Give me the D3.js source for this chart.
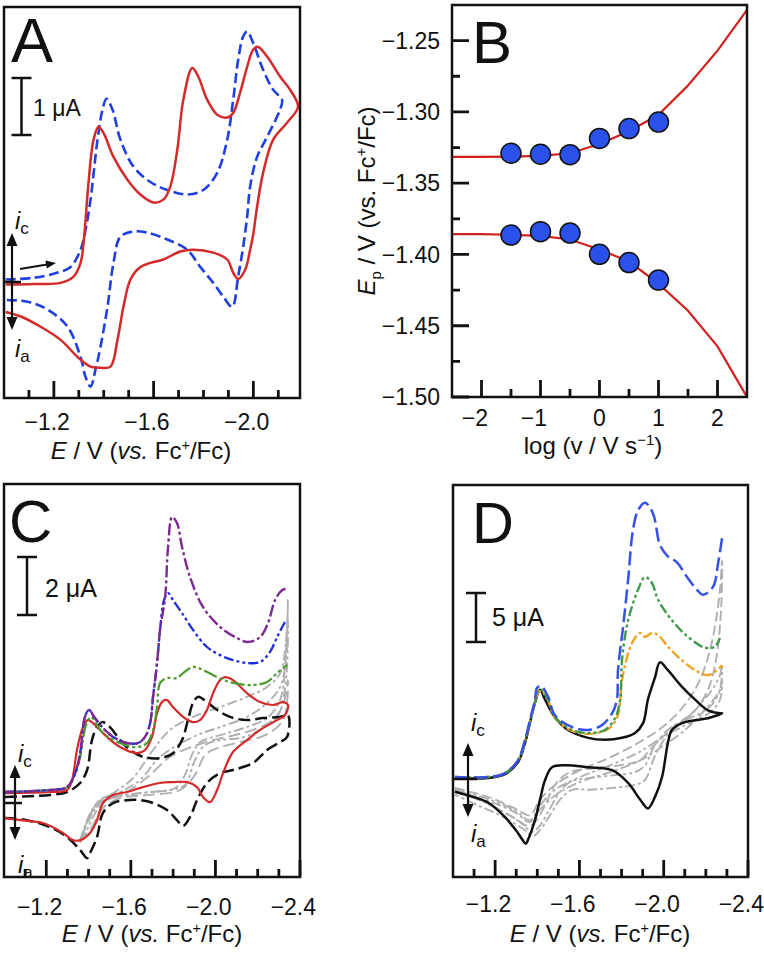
<!DOCTYPE html>
<html>
<head>
<meta charset="utf-8">
<script src="https://cdn.jsdelivr.net/npm/d3@7"></script>
<style>
  body { margin: 0; background: #fff; }
  svg { display: block; font-family: "Liberation Sans", Arial, sans-serif; }
</style>
</head>
<body>
<svg id="fig" width="764" height="953"></svg>
<script>
// ---------- panel A : CVs, E (V) vs i (uA) ----------
const aRed = [[-1.007,-0.05],[-1.119,-0.04],[-1.227,-0.02],[-1.279,0.09],[-1.307,0.33],[-1.319,0.68],[-1.339,1.74],[-1.359,2.49],[-1.379,2.72],[-1.399,2.61],[-1.439,2.19],[-1.495,1.79],[-1.547,1.53],[-1.599,1.39],[-1.639,1.44],[-1.667,1.67],[-1.695,2.32],[-1.719,3.19],[-1.755,3.75],[-1.779,3.60],[-1.815,3.19],[-1.855,2.93],[-1.895,2.88],[-1.919,2.96],[-1.947,3.32],[-1.975,3.77],[-1.999,4.07],[-2.019,4.12],[-2.055,3.95],[-2.107,3.60],[-2.147,3.37],[-2.179,3.07],
  [-2.135,2.79],[-2.079,2.49],[-2.039,1.91],[-2.015,1.32],[-1.999,0.82],[-1.987,0.56],[-1.967,0.21],[-1.939,0.05],[-1.919,0.16],[-1.895,0.39],[-1.839,0.51],[-1.759,0.56],[-1.707,0.53],[-1.639,0.39],[-1.587,0.33],[-1.547,0.26],[-1.507,0.04],[-1.479,-0.44],[-1.455,-1.02],[-1.427,-1.49],[-1.387,-1.51],[-1.347,-1.49],[-1.295,-1.32],[-1.227,-1.02],[-1.147,-0.79],[-1.067,-0.61],[-1.007,-0.53]];
const aBlue = [[-1.007,0.04],[-1.119,0.07],[-1.215,0.16],[-1.267,0.26],[-1.307,0.56],[-1.327,0.91],[-1.347,1.44],[-1.375,2.49],[-1.395,3.02],[-1.411,3.21],[-1.435,3.02],[-1.467,2.49],[-1.519,2.02],[-1.587,1.75],[-1.655,1.61],[-1.735,1.53],[-1.799,1.61],[-1.855,1.91],[-1.895,2.49],[-1.919,3.19],[-1.939,3.89],[-1.959,4.30],[-1.975,4.39],[-1.999,4.19],[-2.039,3.72],[-2.079,3.37],[-2.115,3.19],
  [-2.107,3.02],[-2.055,2.54],[-2.015,2.19],[-1.987,1.67],[-1.975,1.14],[-1.959,0.61],[-1.939,0.09],[-1.915,-0.44],[-1.879,-0.26],[-1.839,-0.02],[-1.787,0.26],[-1.735,0.56],[-1.655,0.74],[-1.575,0.86],[-1.519,0.88],[-1.467,0.79],[-1.439,0.33],[-1.415,-0.44],[-1.387,-1.14],[-1.367,-1.54],[-1.347,-1.84],[-1.327,-1.67],[-1.307,-1.32],[-1.255,-0.79],[-1.175,-0.49],[-1.095,-0.35],[-1.007,-0.32]];

// ---------- panel B : peak potential vs log scan rate ----------
const bLogV = [-1.5,-1,-0.5,0,0.5,1];
const bEpUpper = [-1.329,-1.3297,-1.330,-1.3186,-1.3117,-1.3071];
const bEpLower = [-1.3864,-1.384,-1.385,-1.3999,-1.4057,-1.418];
const bFitLogV = [-2.5,-2,-1.5,-1,-0.5,0,0.5,1,1.5,2,2.5];
const bFitUpper = [-1.3316,-1.3316,-1.3314,-1.3308,-1.3290,-1.3225,-1.3136,-1.3020,-1.2815,-1.2570,-1.2285];
const bFitLower = [-1.3857,-1.3858,-1.3862,-1.3870,-1.3895,-1.3965,-1.4050,-1.4205,-1.4395,-1.4645,-1.5000];

// ---------- panel C ----------
const cPurple = [[-1.005,0.38],[-1.218,0.45],[-1.298,0.55],[-1.336,1.03],[-1.360,1.72],[-1.383,2.97],[-1.402,3.21],[-1.430,2.93],[-1.468,2.59],[-1.516,2.28],[-1.582,2.07],[-1.634,2.07],[-1.667,2.28],[-1.691,2.76],[-1.705,3.66],[-1.724,4.83],[-1.738,5.97],[-1.762,7.10],[-1.776,8.83],[-1.795,9.86],[-1.818,9.66],[-1.842,8.83],[-1.880,7.79],[-1.941,6.76],[-2.022,6.07],[-2.102,5.69],[-2.154,5.55],[-2.211,5.72],[-2.249,6.21],[-2.282,7.00],[-2.315,7.34],[-2.334,7.38]];
const cBlue = [[-1.005,0.38],[-1.218,0.45],[-1.298,0.55],[-1.336,1.03],[-1.360,1.72],[-1.383,2.97],[-1.402,3.21],[-1.430,2.93],[-1.468,2.59],[-1.516,2.28],[-1.582,2.07],[-1.634,2.07],[-1.667,2.28],[-1.691,2.76],[-1.705,3.66],[-1.724,4.83],[-1.738,5.97],[-1.757,7.00],[-1.776,7.24],[-1.799,7.00],[-1.842,6.55],[-1.894,5.97],[-1.960,5.38],[-2.022,5.10],[-2.083,4.93],[-2.149,4.83],[-2.211,4.86],[-2.258,5.21],[-2.296,5.79],[-2.329,6.24]];
const cGreen = [[-1.005,0.38],[-1.218,0.45],[-1.298,0.55],[-1.336,0.97],[-1.360,1.59],[-1.388,2.69],[-1.412,2.97],[-1.440,2.69],[-1.468,2.41],[-1.549,2.07],[-1.629,1.93],[-1.676,2.07],[-1.705,2.52],[-1.724,3.31],[-1.738,4.14],[-1.771,4.31],[-1.818,4.31],[-1.847,4.48],[-1.894,4.69],[-1.941,4.59],[-2.008,4.34],[-2.083,4.14],[-2.178,4.07],[-2.244,4.17],[-2.291,4.48],[-2.339,4.76]];
const cRed = [[-1.005,0.34],[-1.218,0.38],[-1.298,0.45],[-1.322,0.79],[-1.345,1.83],[-1.374,2.62],[-1.397,2.86],[-1.440,2.62],[-1.487,2.28],[-1.549,1.93],[-1.629,1.72],[-1.667,1.83],[-1.700,2.28],[-1.724,3.10],[-1.747,3.48],[-1.771,3.55],[-1.799,3.31],[-1.847,2.97],[-1.894,2.79],[-1.927,2.86],[-1.960,3.21],[-1.989,3.79],[-2.022,4.24],[-2.045,4.34],[-2.083,4.24],[-2.149,3.79],[-2.211,3.48],[-2.272,3.38],[-2.320,3.48],[-2.343,3.38],
  [-2.329,3.03],[-2.291,2.86],[-2.211,2.52],[-2.149,2.17],[-2.083,1.76],[-2.036,1.03],[-2.008,0.45],[-1.974,0.03],[-1.941,0.21],[-1.913,0.55],[-1.866,0.72],[-1.799,0.72],[-1.738,0.69],[-1.643,0.52],[-1.582,0.38],[-1.516,0.28],[-1.468,0.00],[-1.440,-0.59],[-1.407,-1.03],[-1.360,-1.28],[-1.326,-1.28],[-1.279,-1.03],[-1.184,-0.69],[-1.076,-0.59],[-1.005,-0.52]];
const cBlack = [[-1.005,0.21],[-1.218,0.28],[-1.298,0.38],[-1.360,0.69],[-1.393,1.14],[-1.416,2.17],[-1.440,2.62],[-1.464,2.79],[-1.501,2.62],[-1.549,2.17],[-1.596,1.83],[-1.658,1.59],[-1.738,1.55],[-1.799,1.72],[-1.842,2.17],[-1.870,2.86],[-1.894,3.45],[-1.918,3.66],[-1.960,3.48],[-2.008,3.21],[-2.069,2.97],[-2.149,2.86],[-2.225,2.93],[-2.306,2.97],[-2.343,3.03],
  [-2.339,2.28],[-2.306,2.10],[-2.244,1.83],[-2.178,1.38],[-2.083,1.14],[-2.022,1.03],[-1.960,0.69],[-1.913,0.10],[-1.880,-0.48],[-1.847,-0.79],[-1.818,-0.59],[-1.771,-0.24],[-1.705,0.00],[-1.643,0.10],[-1.582,0.10],[-1.516,0.00],[-1.468,-0.34],[-1.440,-1.17],[-1.407,-1.72],[-1.393,-1.90],[-1.360,-1.62],[-1.298,-1.17],[-1.218,-0.83],[-1.109,-0.59],[-1.005,-0.52]];
const cGray1 = [[-1.360,-1.28],[-1.397,-0.52],[-1.440,0.00],[-1.525,0.38],[-1.610,0.86],[-1.705,1.83],[-1.785,2.52],[-1.894,2.97],[-2.022,3.31],[-2.149,3.66],[-2.244,4.00],[-2.306,4.48],[-2.334,5.62],[-2.343,7.00],
  [-2.334,5.28],[-2.306,3.55],[-2.244,2.93],[-2.149,2.62],[-2.055,2.41],[-1.974,2.24],[-1.927,2.10],[-1.889,1.66],[-1.856,0.97],[-1.809,0.52],[-1.691,0.38],[-1.549,0.24],[-1.454,0.00],[-1.397,-0.66],[-1.360,-1.28]];
const cGray2 = [[-1.360,-1.38],[-1.407,-0.41],[-1.454,0.10],[-1.549,0.38],[-1.643,0.79],[-1.738,1.59],[-1.894,2.28],[-2.022,2.62],[-2.149,2.97],[-2.244,3.45],[-2.306,4.00],[-2.334,4.93],[-2.343,6.31],
  [-2.334,4.24],[-2.296,3.03],[-2.211,2.52],[-2.116,2.24],[-2.022,2.17],[-1.951,2.00],[-1.903,1.48],[-1.856,0.62],[-1.785,0.45],[-1.643,0.34],[-1.525,0.21],[-1.454,-0.10],[-1.397,-0.86],[-1.360,-1.38]];
const cGray3 = [[-1.369,-1.21],[-1.416,-0.31],[-1.478,0.10],[-1.596,0.45],[-1.691,0.97],[-1.785,1.59],[-1.941,2.07],[-2.055,2.28],[-2.178,2.52],[-2.272,2.86],[-2.320,3.38],[-2.343,4.24],
  [-2.320,2.86],[-2.235,2.34],[-2.116,2.10],[-2.012,1.90],[-1.951,1.66],[-1.903,0.97],[-1.833,0.45],[-1.691,0.28],[-1.549,0.17],[-1.468,-0.17],[-1.407,-0.93],[-1.369,-1.21]];

// ---------- panel D ----------
const dBlue = [[-1.009,0.2],[-1.166,0.2],[-1.247,0.6],[-1.308,1.9],[-1.342,4.0],[-1.365,6.0],[-1.389,8.1],[-1.399,9.3],[-1.418,9.5],[-1.451,8.4],[-1.484,6.5],[-1.565,5.3],[-1.641,5.0],[-1.707,5.5],[-1.755,6.7],[-1.778,8.1],[-1.783,11.1],[-1.807,15.5],[-1.831,20.3],[-1.854,25.4],[-1.878,27.4],[-1.911,28.2],[-1.949,27.1],[-1.982,23.9],[-2.016,22.8],[-2.063,22.1],[-2.111,20.6],[-2.158,19.3],[-2.187,18.8],[-2.234,19.6],[-2.258,22.0],[-2.277,24.6]];
const dGreen = [[-1.009,0.2],[-1.166,0.2],[-1.247,0.6],[-1.308,1.9],[-1.342,3.9],[-1.365,5.8],[-1.389,7.8],[-1.403,8.9],[-1.418,9.1],[-1.451,8.1],[-1.484,6.3],[-1.565,5.0],[-1.641,4.7],[-1.721,5.0],[-1.769,6.2],[-1.793,8.1],[-1.802,12.1],[-1.831,16.2],[-1.878,19.3],[-1.911,20.6],[-1.944,20.0],[-1.973,18.3],[-2.039,16.2],[-2.115,14.5],[-2.196,13.4],[-2.243,13.5],[-2.267,14.4]];
const dOrange = [[-1.009,0.2],[-1.166,0.2],[-1.247,0.6],[-1.308,1.9],[-1.342,3.9],[-1.365,5.8],[-1.389,7.8],[-1.403,8.8],[-1.418,9.0],[-1.451,8.0],[-1.484,6.2],[-1.565,4.9],[-1.641,4.6],[-1.736,5.1],[-1.778,6.2],[-1.793,7.8],[-1.802,10.1],[-1.850,13.9],[-1.888,14.9],[-1.911,14.5],[-1.944,14.9],[-1.973,14.7],[-2.020,13.5],[-2.087,12.1],[-2.149,11.1],[-2.210,10.6],[-2.253,11.1],[-2.277,11.6]];
const dBlack = [[-1.009,0.1],[-1.166,0.1],[-1.247,0.5],[-1.308,1.7],[-1.342,3.7],[-1.365,5.7],[-1.389,7.8],[-1.413,9.1],[-1.437,8.1],[-1.484,6.3],[-1.546,5.0],[-1.641,4.2],[-1.721,4.0],[-1.802,4.2],[-1.864,4.7],[-1.902,5.7],[-1.925,8.1],[-1.959,10.4],[-1.982,11.9],[-2.020,11.1],[-2.087,9.4],[-2.149,8.1],[-2.210,7.0],[-2.267,6.7],[-2.277,6.7],
  [-2.210,6.2],[-2.149,6.0],[-2.087,5.7],[-2.039,5.0],[-2.020,3.7],[-1.992,0.2],[-1.959,-1.8],[-1.925,-3.0],[-1.888,-2.1],[-1.831,-0.4],[-1.755,0.9],[-1.641,1.2],[-1.532,1.4],[-1.470,1.2],[-1.437,-0.1],[-1.413,-2.1],[-1.389,-4.2],[-1.356,-6.2],[-1.346,-6.6],[-1.308,-5.5],[-1.247,-3.9],[-1.166,-2.4],[-1.090,-1.8],[-1.009,-1.3]];
const dGray1 = [[-1.009,-0.9],[-1.176,-1.9],[-1.294,-3.0],[-1.365,-3.7],[-1.413,-2.1],[-1.484,-0.6],[-1.603,0.9],[-1.745,2.2],[-1.888,3.8],[-2.006,5.5],[-2.101,7.6],[-2.172,10.1],[-2.220,13.2],[-2.248,16.2],[-2.267,19.3],[-2.277,22.3],
  [-2.272,17.2],[-2.248,12.1],[-2.210,9.1],[-2.149,7.0],[-2.077,5.8],[-2.006,4.5],[-1.935,3.0],[-1.888,1.9],[-1.793,1.4],[-1.674,1.1],[-1.555,0.7],[-1.484,-0.6],[-1.437,-2.7],[-1.389,-4.4],[-1.356,-4.8],[-1.294,-4.0],[-1.199,-2.9],[-1.104,-1.8],[-1.009,-1.1]];
const dGray2 = [[-1.009,-1.1],[-1.176,-2.1],[-1.294,-3.2],[-1.365,-4.2],[-1.413,-2.7],[-1.484,-1.1],[-1.603,0.2],[-1.745,1.4],[-1.888,2.8],[-2.006,4.5],[-2.101,6.0],[-2.172,7.6],[-2.229,9.1],[-2.267,10.6],[-2.277,11.6],
  [-2.267,9.1],[-2.229,7.6],[-2.172,6.7],[-2.101,6.0],[-2.030,5.2],[-1.959,3.5],[-1.911,1.4],[-1.864,0.7],[-1.769,0.4],[-1.650,0.1],[-1.555,-0.3],[-1.498,-1.6],[-1.451,-3.4],[-1.403,-5.0],[-1.375,-5.4],[-1.318,-4.4],[-1.223,-3.2],[-1.119,-2.1],[-1.009,-1.3]];
const dGray3 = [[-1.009,-1.3],[-1.176,-2.3],[-1.294,-3.4],[-1.365,-4.4],[-1.418,-3.0],[-1.489,-1.6],[-1.603,-0.3],[-1.745,0.7],[-1.888,1.9],[-2.006,3.5],[-2.101,5.0],[-2.172,6.5],[-2.229,7.9],[-2.267,9.1],[-2.277,10.1],
  [-2.267,8.1],[-2.220,6.8],[-2.149,6.0],[-2.077,5.2],[-2.020,4.5],[-1.959,2.4],[-1.911,-0.1],[-1.864,-0.6],[-1.755,-0.9],[-1.650,-1.1],[-1.565,-1.1],[-1.508,-2.1],[-1.460,-3.7],[-1.413,-5.2],[-1.380,-5.8],[-1.327,-5.0],[-1.223,-3.7],[-1.119,-2.7],[-1.009,-1.6]];

// tick values
const eMajorA = [-1.2, -1.6, -2.0];
const eMinorA = [-1.1, -1.3, -1.4, -1.5, -1.7, -1.8, -1.9, -2.1];
const eMajorCD = [-1.2, -1.6, -2.0, -2.4];
const eMinorCD = [-1.1, -1.3, -1.4, -1.5, -1.7, -1.8, -1.9, -2.1, -2.2, -2.3];
const bxMajor = [-2, -1, 0, 1, 2];
const bxMinor = [-1.5, -0.5, 0.5, 1.5];
const byMajor = [-1.25, -1.30, -1.35, -1.40, -1.45, -1.50];
const byMinor = [-1.275, -1.325, -1.375, -1.425, -1.475];

const svg = d3.select("#fig");
const defs = svg.append("defs");
const INK = "#111";

function clip(id, x0, y0, x1, y1) {
  defs.append("clipPath").attr("id", id)
    .append("rect").attr("x", x0).attr("y", y0).attr("width", x1 - x0).attr("height", y1 - y0);
}

function frame(x0, y0, x1, y1) {
  svg.append("rect")
    .attr("x", x0).attr("y", y0).attr("width", x1 - x0).attr("height", y1 - y0)
    .attr("fill", "none").attr("stroke", INK).attr("stroke-width", 2.5);
}

// inward ticks on the bottom edge (one path), labels by baseline
function bottomAxis(x, y0, major, minor, fmt, fs, base) {
  const d = minor.map(v => `M${x(v)},${y0}V${y0 - 8}`).join("") +
            major.map(v => `M${x(v)},${y0}V${y0 - 17}`).join("");
  svg.append("path").attr("d", d).attr("fill", "none")
    .attr("stroke", INK).attr("stroke-width", 2.8);
  svg.append("g").selectAll("text").data(major).enter().append("text")
    .attr("x", v => x(v)).attr("y", base)
    .attr("dx", v => v < 0 ? "-0.29em" : 0)
    .attr("text-anchor", "middle").attr("font-size", fs).attr("fill", INK)
    .text(fmt);
}

function leftAxis(y, x0, major, minor, fmt, fs, right) {
  const d = minor.map(v => `M${x0},${y(v)}H${x0 + 8}`).join("") +
            major.map(v => `M${x0},${y(v)}H${x0 + 17}`).join("");
  svg.append("path").attr("d", d).attr("fill", "none")
    .attr("stroke", INK).attr("stroke-width", 2.8);
  svg.append("g").selectAll("text").data(major).enter().append("text")
    .attr("x", right).attr("y", v => y(v)).attr("dy", "0.36em")
    .attr("text-anchor", "end").attr("font-size", fs).attr("fill", INK)
    .text(fmt);
}

function eTitle(cx, by, fs) {
  const t = svg.append("text").attr("x", cx).attr("y", by)
    .attr("text-anchor", "middle").attr("font-size", fs).attr("fill", INK);
  t.append("tspan").attr("font-style", "italic").text("E");
  t.append("tspan").text(" / V (");
  t.append("tspan").attr("font-style", "italic").text("vs.");
  t.append("tspan").text(" Fc");
  t.append("tspan").attr("font-size", fs * 0.6).attr("dy", -fs * 0.38).text("+");
  t.append("tspan").attr("dy", fs * 0.38).text("/Fc)");
}

function letter(txt, x, y, fs) {
  svg.append("text").attr("x", x).attr("y", y).attr("font-size", fs).attr("fill", INK).text(txt);
}

function scaleBar(x, top, len, label, fs, lx, ly) {
  const g = svg.append("g").attr("stroke", INK).attr("stroke-width", 2.5);
  g.append("line").attr("x1", x).attr("x2", x).attr("y1", top).attr("y2", top + len);
  g.append("line").attr("x1", x - 10).attr("x2", x + 10).attr("y1", top).attr("y2", top);
  g.append("line").attr("x1", x - 10).attr("x2", x + 10).attr("y1", top + len).attr("y2", top + len);
  svg.append("text").attr("x", lx).attr("y", ly).attr("font-size", fs).attr("fill", INK).text(label);
}

function currentArrows(x, top, bot, barX0, barX1, barY, icY, iaY) {
  const g = svg.append("g");
  g.append("line").attr("x1", x).attr("x2", x).attr("y1", top + 10).attr("y2", bot - 10)
    .attr("stroke", INK).attr("stroke-width", 2.2);
  g.append("path").attr("d", `M${x},${top} L${x - 5.5},${top + 13} L${x + 5.5},${top + 13} Z`).attr("fill", INK);
  g.append("path").attr("d", `M${x},${bot} L${x - 5.5},${bot - 13} L${x + 5.5},${bot - 13} Z`).attr("fill", INK);
  g.append("line").attr("x1", barX0).attr("x2", barX1).attr("y1", barY).attr("y2", barY)
    .attr("stroke", INK).attr("stroke-width", 2.5);
  [[icY, "c"], [iaY, "a"]].forEach(([yy, s]) => {
    const t = svg.append("text").attr("x", x + 3).attr("y", yy).attr("font-size", 24).attr("fill", INK);
    t.append("tspan").attr("font-style", "italic").text("i");
    t.append("tspan").attr("font-size", 17).attr("dy", 5).text(s);
  });
}

function curves(x, y, clipId, list) {
  const line = d3.line().x(d => x(d[0])).y(d => y(d[1])).curve(d3.curveCatmullRom.alpha(0.5));
  const g = svg.append("g").attr("clip-path", `url(#${clipId})`);
  list.forEach(s => {
    g.append("path").attr("d", line(s.data))
      .attr("fill", "none").attr("stroke", s.color).attr("stroke-width", s.width || 2.3)
      .attr("stroke-dasharray", s.dash || null)
      .attr("stroke-linejoin", "round").attr("stroke-linecap", "butt");
  });
}

const f1 = d3.format(".1f");

// ================= Panel A =================
{
  const x = d3.scaleLinear().domain([-1.0, -2.187]).range([4, 300]);
  const y = d3.scaleLinear().domain([-2.04, 4.82]).range([398, 7]);
  clip("clipA", 4, 7, 300, 398);
  curves(x, y, "clipA", [
    { data: aBlue, color: "#1f3fe0", dash: "10,4.5", width: 2.6 },
    { data: aRed, color: "#d42a2a", width: 2.5 }
  ]);
  frame(4, 7, 300, 398);
  bottomAxis(x, 398, eMajorA, eMinorA, f1, 23, 430);
  letter("A", 11, 62, 63);
  scaleBar(21.5, 78, 57, "1 μA", 23, 33, 116);
  currentArrows(12, 233, 330, 4, 21, 282, 229, 357);
  // scan direction arrow
  svg.append("line").attr("x1", 20).attr("y1", 269).attr("x2", 47).attr("y2", 264.5)
    .attr("stroke", INK).attr("stroke-width", 2.2);
  svg.append("path").attr("d", "M56,263 L45.4,260.4 L46.8,268.6 Z").attr("fill", INK);
  eTitle(141, 459, 24);
}

// ================= Panel B =================
{
  const x = d3.scaleLinear().domain([-2.5, 2.5]).range([452, 747]);
  const y = d3.scaleLinear().domain([-1.5, -1.225]).range([397, 5]);
  clip("clipB", 452, 5, 747, 397);
  const g = svg.append("g").attr("clip-path", "url(#clipB)");
  const line = d3.line().x(d => x(d[0])).y(d => y(d[1]));
  [bFitUpper, bFitLower].forEach(fit => {
    g.append("path").attr("d", line(bFitLogV.map((v, i) => [v, fit[i]])))
      .attr("fill", "none").attr("stroke", "#d41f1f").attr("stroke-width", 2.2);
  });
  [bEpUpper, bEpLower].forEach(ep => {
    g.selectAll(null).data(bLogV.map((v, i) => [v, ep[i]])).enter()
      .append("circle")
      .attr("cx", d => x(d[0])).attr("cy", d => y(d[1])).attr("r", 10)
      .attr("fill", "#2a52ea").attr("stroke", INK).attr("stroke-width", 1.5);
  });
  frame(452, 5, 747, 397);
  bottomAxis(x, 397, bxMajor, bxMinor, d3.format("d"), 23, 426);
  leftAxis(y, 452, byMajor, byMinor, d3.format(".2f"), 23, 440);
  letter("B", 472, 63, 60);
  const t = svg.append("text").attr("x", 593).attr("y", 454)
    .attr("text-anchor", "middle").attr("font-size", 24).attr("fill", INK);
  t.append("tspan").text("log (v / V s");
  t.append("tspan").attr("font-size", 15).attr("dy", -9).text("−1");
  t.append("tspan").attr("dy", 9).text(")");
  const ty = svg.append("text").attr("transform", "translate(375,201) rotate(-90)")
    .attr("text-anchor", "middle").attr("font-size", 24).attr("fill", INK);
  ty.append("tspan").attr("font-style", "italic").text("E");
  ty.append("tspan").attr("font-size", 15).attr("dy", 6).text("p");
  ty.append("tspan").attr("dy", -6).text(" / V (vs. Fc");
  ty.append("tspan").attr("font-size", 15).attr("dy", -9).text("+");
  ty.append("tspan").attr("dy", 9).text("/Fc)");
}

// ================= Panel C =================
{
  const x = d3.scaleLinear().domain([-1.0, -2.4]).range([4, 300]);
  const y = d3.scaleLinear().domain([-2.55, 11.0]).range([877, 484]);
  clip("clipC", 4, 484, 300, 877);
  curves(x, y, "clipC", [
    { data: cGray1, color: "#b0b0b0", dash: "10,3,3,3", width: 1.9 },
    { data: cGray2, color: "#b0b0b0", dash: "10,3,3,3,3,3", width: 1.9 },
    { data: cGray3, color: "#b0b0b0", dash: "12,5", width: 1.9 },
    { data: cBlack, color: "#111111", dash: "12,5", width: 2.5 },
    { data: cRed, color: "#d42a2a", width: 2.2 },
    { data: cGreen, color: "#4c9d2e", dash: "14,3,3,3,3,3", width: 2.3 },
    { data: cBlue, color: "#1c2ee0", dash: "10,3,3,3,3,3", width: 2.3 },
    { data: cPurple, color: "#7d2a90", dash: "12,3,3,3", width: 2.4 }
  ]);
  frame(4, 484, 300, 877);
  bottomAxis(x, 877, eMajorCD, eMinorCD, f1, 23, 915);
  letter("C", 9, 542, 60);
  scaleBar(27, 557, 58, "2 μA", 25, 45, 597);
  currentArrows(15, 765, 840, 4, 22, 803, 762, 873);
  eTitle(152, 942, 24);
}

// ================= Panel D =================
{
  const x = d3.scaleLinear().domain([-1.0, -2.4]).range([453, 748]);
  const y = d3.scaleLinear().domain([-10, 30]).range([877, 485]);
  clip("clipD", 453, 485, 748, 877);
  curves(x, y, "clipD", [
    { data: dGray1, color: "#b0b0b0", dash: "10,4", width: 1.9 },
    { data: dGray2, color: "#b0b0b0", dash: "10,3,3,3,3,3", width: 1.9 },
    { data: dGray3, color: "#b0b0b0", dash: "10,3,3,3", width: 1.9 },
    { data: dBlack, color: "#111111", width: 2.5 },
    { data: dOrange, color: "#f0a321", dash: "10,3,3,3", width: 2.4 },
    { data: dGreen, color: "#3f9a4a", dash: "10,3,3,3,3,3", width: 2.4 },
    { data: dBlue, color: "#3651e8", dash: "14,5", width: 2.5 }
  ]);
  frame(453, 485, 748, 877);
  bottomAxis(x, 877, eMajorCD, eMinorCD, f1, 23, 912);
  letter("D", 472, 543, 58);
  scaleBar(476, 593, 49, "5 μA", 25, 492, 626);
  currentArrows(468, 743, 817, 453, 477, 779, 731, 842);
  eTitle(600, 942, 24);
}
</script>
</body>
</html>
